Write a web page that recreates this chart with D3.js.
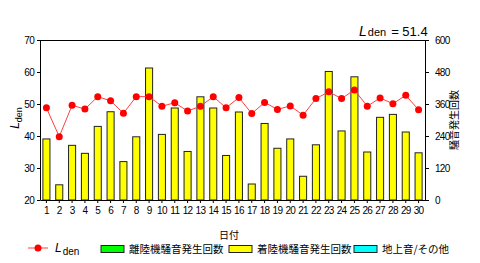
<!DOCTYPE html>
<html>
<head>
<meta charset="utf-8">
<script src="https://cdn.jsdelivr.net/npm/d3@7"></script>
<style>
  html, body { margin: 0; padding: 0; background: #fff; }
  svg text { font-family: "Liberation Sans", Arial, sans-serif; fill: #000; }
  .tick text { letter-spacing: -0.7px; }
  .jp { font-family: "Noto Sans CJK JP", sans-serif; }
</style>
</head>
<body>
<svg id="chart" width="480" height="263"></svg>
<script>
  'use strict';

  // day of month
  const days = d3.range(1, 31);
  // Lden per day (dB)
  const ldenValues = [48.8, 39.8, 49.6, 48.4, 52.3, 51.0, 47.1, 52.3, 52.3, 49.3,
                      50.4, 47.8, 49.3, 52.3, 48.8, 52.0, 47.0, 50.5, 48.3, 49.4,
                      46.5, 51.7, 53.8, 51.7, 54.4, 49.3, 51.9, 50.1, 52.7, 48.2];
  // landing aircraft noise events per day
  const landingCounts = [229, 57, 205, 175, 276, 331, 144, 237, 495, 246,
                         345, 182, 387, 345, 167, 330, 60, 287, 194, 229,
                         89, 207, 482, 259, 462, 180, 310, 321, 255, 177];
  const leftTicks = [20, 30, 40, 50, 60, 70];
  const rightTicks = [0, 120, 240, 360, 480, 600];
  const ldenTotal = 51.4;
  const legendItems = [
    { label: '離陸機騒音発生回数', color: '#00ff00' },
    { label: '着陸機騒音発生回数', color: '#ffff00' },
    { label: '地上音/その他', color: '#00ffff' }
  ];

  const margin = { top: 40, right: 55, bottom: 63, left: 40 };
  const width = 480, height = 263;
  const innerW = width - margin.left - margin.right;
  const innerH = height - margin.top - margin.bottom;

  const svg = d3.select('#chart');
  const g = svg.append('g').attr('transform', 'translate(' + margin.left + ',' + margin.top + ')');

  const x = d3.scaleBand().domain(days).range([0, innerW]).paddingInner(0.45).paddingOuter(0.225);
  const yL = d3.scaleLinear().domain([20, 70]).range([innerH, 0]);
  const yR = d3.scaleLinear().domain([0, 600]).range([innerH, 0]);

  // bars
  g.append('g').selectAll('rect').data(landingCounts).join('rect')
    .attr('x', function (d, i) { return x(days[i]); })
    .attr('y', function (d) { return yR(d); })
    .attr('width', x.bandwidth())
    .attr('height', function (d) { return innerH - yR(d); })
    .attr('fill', '#ffff00')
    .attr('stroke', '#222')
    .attr('stroke-width', 1);

  // top frame
  g.append('line').attr('x1', 0).attr('x2', innerW).attr('y1', 0.5).attr('y2', 0.5)
    .attr('stroke', '#000');

  function styleAxis(sel) {
    sel.select('.domain').attr('stroke', '#000');
    sel.selectAll('.tick line').attr('stroke', '#000');
    sel.selectAll('.tick text').style('font-size', '10px').attr('fill', '#000');
  }

  g.append('g').call(d3.axisLeft(yL).tickValues(leftTicks).tickSize(3).tickSizeOuter(0).tickPadding(3))
    .call(styleAxis);
  g.append('g').attr('transform', 'translate(' + innerW + ',0)')
    .call(d3.axisRight(yR).tickValues(rightTicks).tickSize(4).tickSizeOuter(0).tickPadding(6))
    .call(styleAxis);
  g.append('g').attr('transform', 'translate(0,' + innerH + ')')
    .call(d3.axisBottom(x).tickSize(3).tickSizeOuter(0).tickPadding(4))
    .call(styleAxis);

  // Lden line
  const cx = function (d, i) { return x(days[i]) + x.bandwidth() / 2; };
  g.append('path').datum(ldenValues)
    .attr('fill', 'none')
    .attr('stroke', '#ff4040')
    .attr('stroke-width', 1)
    .attr('d', d3.line().x(cx).y(function (d) { return yL(d); }));
  g.append('g').selectAll('circle').data(ldenValues).join('circle')
    .attr('cx', cx)
    .attr('cy', function (d) { return yL(d); })
    .attr('r', 3.5)
    .attr('fill', '#ff0000');

  // left axis title
  const lt = svg.append('text').attr('transform', 'translate(19,118) rotate(-90)')
    .attr('text-anchor', 'middle');
  lt.append('tspan').style('font-style', 'italic').style('font-size', '12px').text('L');
  lt.append('tspan').attr('dy', 3).style('font-size', '9px').text('den');

  // right axis title
  svg.append('text').attr('class', 'jp').attr('transform', 'translate(458,120) rotate(-90)')
    .attr('text-anchor', 'middle').style('font-size', '10px').text('騒音発生回数');

  // x title
  svg.append('text').attr('class', 'jp').attr('x', 229).attr('y', 239)
    .attr('text-anchor', 'middle').style('font-size', '10px').text('日付');

  // overall Lden
  const tt = svg.append('text').attr('x', 359).attr('y', 36);
  tt.append('tspan').style('font-style', 'italic').style('font-size', '14px').text('L');
  tt.append('tspan').attr('dx', 1).style('font-size', '11px').text('den');
  tt.append('tspan').attr('dx', 5).style('font-size', '13px').text('= ' + ldenTotal.toFixed(1));

  // legend
  const leg = svg.append('g');
  leg.append('line').attr('x1', 28).attr('x2', 48).attr('y1', 248).attr('y2', 248)
    .attr('stroke', '#ff4040');
  leg.append('circle').attr('cx', 38).attr('cy', 248).attr('r', 3.5).attr('fill', '#ff0000');
  const ll = leg.append('text').attr('x', 55).attr('y', 252);
  ll.append('tspan').style('font-style', 'italic').style('font-size', '12px').text('L');
  ll.append('tspan').attr('dy', 3).attr('dx', 1).style('font-size', '10px').text('den');

  const boxX = [101, 229, 354];
  legendItems.forEach(function (item, i) {
    leg.append('rect').attr('x', boxX[i]).attr('y', 245.5).attr('width', 23).attr('height', 7)
      .attr('fill', item.color).attr('stroke', '#222');
    leg.append('text').attr('class', 'jp').attr('x', boxX[i] + 28).attr('y', 253)
      .style('font-size', '10.5px').text(item.label);
  });
</script>
</body>
</html>
